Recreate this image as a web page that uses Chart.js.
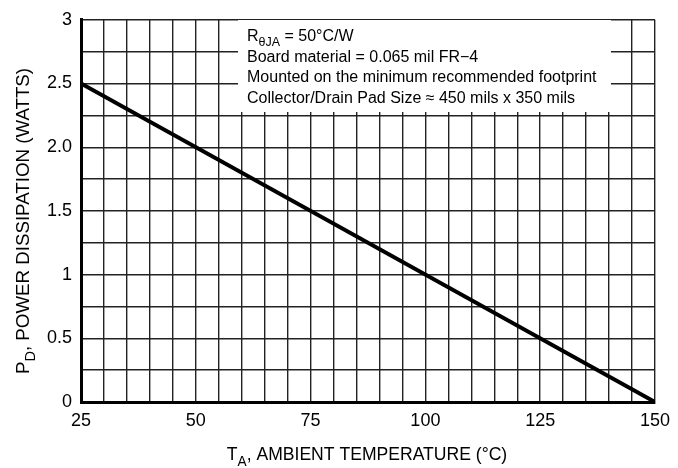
<!DOCTYPE html>
<html>
<head>
    <title>Power Derating</title>
    <script src="https://cdn.jsdelivr.net/npm/chart.js"></script>
    <style>
        body { margin: 0; background: #fff; }
        #wrap { width: 678px; height: 468px; }
    </style>
</head>
<body>
    <div id="wrap"><canvas id="derating" width="678" height="468"></canvas></div>

    <script>
        // values
        var tempC = [25, 150];
        var powerW = [2.5, 0];
        var xTickLabels = {25: "25", 50: "50", 75: "75", 100: "100", 125: "125", 150: "150"};
        var yTickLabels = {0: "0", 0.5: "0.5", 1: "1", 1.5: "1.5", 2: "2.0", 2.5: "2.5", 3: "3"};
        var noteLines = [
            ["R", "θJA", " = 50°C/W"],
            ["Board material = 0.065 mil FR\u22124"],
            ["Mounted on the minimum recommended footprint"],
            ["Collector/Drain Pad Size \u2248 450 mils x 350 mils"]
        ];

        var FONT = "'Liberation Sans', Arial, sans-serif";

        var points = tempC.map(function (t, i) { return {x: t, y: powerW[i]}; });

        // draw text pieces with subscripts, left to right
        function drawParts(ctx, parts, x, y, size) {
            parts.forEach(function (p) {
                ctx.font = (p.sub ? size * 0.78 : size) + "px " + FONT;
                ctx.fillText(p.text, x, y + (p.sub ? size * 0.3 : 0));
                x += ctx.measureText(p.text).width;
            });
            return x;
        }
        function partsWidth(ctx, parts, size) {
            var w = 0;
            parts.forEach(function (p) {
                ctx.font = (p.sub ? size * 0.78 : size) + "px " + FONT;
                w += ctx.measureText(p.text).width;
            });
            return w;
        }

        var extras = {
            id: "extras",
            beforeDatasetsDraw: function (chart) {
                var ctx = chart.ctx;
                ctx.save();
                // note box covers the grid
                ctx.fillStyle = "#fff";
                ctx.fillRect(238, 20, 373, 92);
                ctx.fillStyle = "#000";
                ctx.textBaseline = "alphabetic";
                noteLines.forEach(function (line, i) {
                    var parts = line.map(function (t, k) {
                        return {text: t, sub: line.length > 1 && k === 1};
                    });
                    drawParts(ctx, parts, 247, 41 + i * 20.5, 16);
                });
                ctx.restore();
            },
            afterDraw: function (chart) {
                var ctx = chart.ctx;
                ctx.save();
                ctx.fillStyle = "#000";
                ctx.textBaseline = "alphabetic";
                var size = 19;
                // x title, slightly condensed
                var xt = [
                    {text: "T"},
                    {text: "A", sub: true},
                    {text: ", AMBIENT TEMPERATURE (°C)"}
                ];
                var w = partsWidth(ctx, xt, size);
                ctx.save();
                ctx.translate(367, 460);
                ctx.scale(0.925, 1);
                drawParts(ctx, xt, -w / 2, 0, size);
                ctx.restore();
                // y title
                var yt = [
                    {text: "P"},
                    {text: "D", sub: true},
                    {text: ", POWER DISSIPATION (WATTS)"}
                ];
                w = partsWidth(ctx, yt, size);
                ctx.translate(29, 221);
                ctx.rotate(-Math.PI / 2);
                ctx.scale(0.985, 1);
                drawParts(ctx, yt, -w / 2, 0, size);
                ctx.restore();
            }
        };

        var ctx = document.getElementById("derating").getContext("2d");
        var chart = new Chart(ctx, {
            type: "line",
            data: {
                datasets: [{
                    data: points,
                    borderColor: "#000",
                    borderWidth: 4,
                    pointRadius: 0,
                    fill: false
                }]
            },
            options: {
                responsive: false,
                animation: false,
                layout: { padding: { top: 17, right: 21, left: 0, bottom: 0 } },
                plugins: {
                    legend: { display: false },
                    tooltip: { enabled: false }
                },
                scales: {
                    x: {
                        type: "linear",
                        min: 25,
                        max: 150,
                        afterFit: function (s) { s.height = 66; },
                        grid: { color: "#222", lineWidth: 1.4, drawTicks: false },
                        border: { color: "#000", width: 3 },
                        ticks: {
                            stepSize: 5,
                            autoSkip: false,
                            maxRotation: 0,
                            padding: 8,
                            color: "#000",
                            font: { family: FONT, size: 18 },
                            callback: function (v) { return xTickLabels[v] || ""; }
                        }
                    },
                    y: {
                        min: 0,
                        max: 3,
                        afterFit: function (s) { s.width = 81; },
                        grid: { color: "#222", lineWidth: 1.4, drawTicks: false },
                        border: { color: "#000", width: 3 },
                        ticks: {
                            stepSize: 0.25,
                            autoSkip: false,
                            padding: 9,
                            color: "#000",
                            font: { family: FONT, size: 18 },
                            callback: function (v) { return yTickLabels[v] || ""; }
                        }
                    }
                }
            },
            plugins: [extras]
        });
    </script>
</body>
</html>
